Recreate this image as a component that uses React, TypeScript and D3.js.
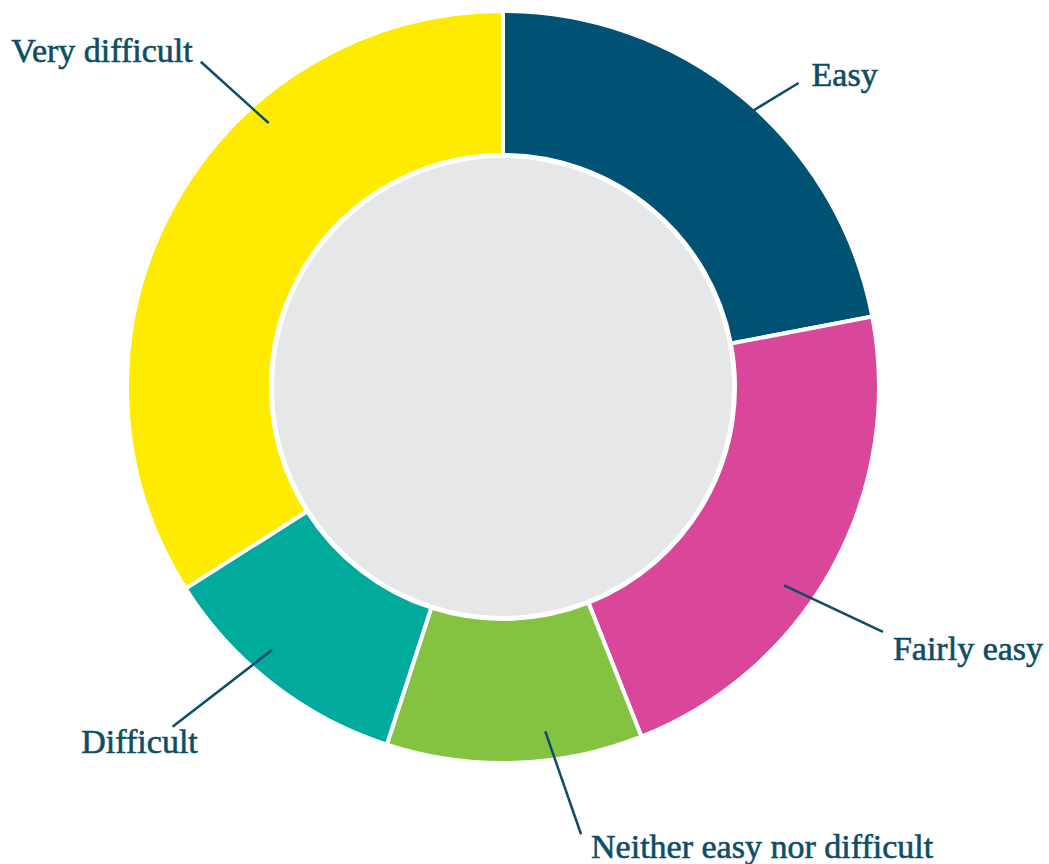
import React from "react";
import * as d3 from "d3";

const categories = ["Easy", "Fairly easy", "Neither easy nor difficult", "Difficult", "Very difficult"];
const values = [22, 22, 11, 11, 34];
const colors = ["#005274", "#da4699", "#84c341", "#00ab9e", "#ffeb00"];

// label layout: leader inner/outer polar points (deg clockwise from top, radius), text offset
const labelLayout = [
  { a1: 41.5, r1: 359, a2: 44.2, r2: 424, dx: 13, dy: 3, anchor: "start" },
  { a1: 125.2, r1: 344, a2: 122.8, r2: 452, dx: 10, dy: 28, anchor: "start" },
  { a1: 173.0, r1: 347, a2: 170.1, r2: 454, dx: 10, dy: 24, anchor: "start" },
  { a1: 221.3, r1: 350, a2: 224.2, r2: 474, dx: -33, dy: 26, anchor: "middle" },
  { a1: 318.4, r1: 353, a2: 317.1, r2: 444, dx: -8, dy: 0, anchor: "end" },
];

const W = 1049;
const H = 864;
const cx = 503;
const cy = 387;
const textColor = "#0d4d66";

export default function App() {
  const pie = d3.pie<number>().sort(null).value((d) => d)(values);
  const arc = d3.arc<d3.PieArcDatum<number>>().innerRadius(232).outerRadius(376);
  const polar = (deg: number, r: number): [number, number] => {
    const t = (deg * Math.PI) / 180;
    return [r * Math.sin(t), -r * Math.cos(t)];
  };
  return (
    <svg width={W} height={H} style={{ position: "absolute", left: 0, top: 0 }}>
      <g transform={`translate(${cx},${cy})`}>
        {pie.map((p, i) => (
          <path key={categories[i]} d={arc(p) || ""} fill={colors[i]} stroke="#fff" strokeWidth={4} />
        ))}
        <circle r={229} fill="#e6e7e8" />
        {labelLayout.map((l, i) => {
          const [x1, y1] = polar(l.a1, l.r1);
          const [x2, y2] = polar(l.a2, l.r2);
          return (
            <g key={"l" + i}>
              <line x1={x1} y1={y1} x2={x2} y2={y2} stroke={textColor} strokeWidth={2.5} />
              <text
                x={x2 + l.dx}
                y={y2 + l.dy}
                textAnchor={l.anchor as any}
                fill={textColor}
                stroke={textColor}
                strokeWidth={0.6}
                fontFamily="Liberation Serif"
                fontSize={34}
              >
                {categories[i]}
              </text>
            </g>
          );
        })}
      </g>
    </svg>
  );
}
